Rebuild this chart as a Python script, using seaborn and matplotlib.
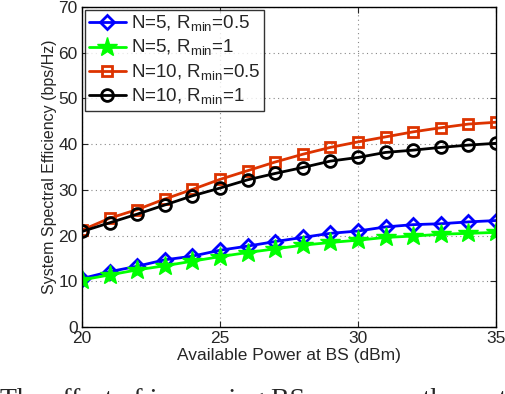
import numpy as np
import pandas as pd
import matplotlib
matplotlib.use("Agg")
import matplotlib.pyplot as plt
import seaborn as sns

# -------------------------------
# DATA
# -------------------------------
power_dbm = [20, 21, 22, 23, 24, 25, 26, 27, 28, 29, 30, 31, 32, 33, 34, 35]
se_n5_r05 = [10.6, 12.1, 13.3, 14.7, 15.5, 16.8, 17.7, 18.7, 19.6, 20.5, 21.0, 21.9, 22.4, 22.6, 23.0, 23.3]
se_n5_r1 = [10.3, 11.4, 12.5, 13.4, 14.4, 15.4, 16.3, 17.1, 17.9, 18.5, 19.0, 19.6, 19.9, 20.3, 20.5, 20.7]
se_n10_r05 = [21.2, 23.8, 25.7, 28.0, 30.1, 32.3, 34.2, 36.1, 37.8, 39.3, 40.5, 41.6, 42.7, 43.6, 44.4, 44.8]
se_n10_r1 = [20.9, 22.8, 24.7, 26.7, 28.7, 30.4, 32.2, 33.6, 34.9, 36.3, 37.1, 38.2, 38.7, 39.3, 39.8, 40.2]

labels = [r"N=5, R$_\mathregular{min}$=0.5",
          r"N=5, R$_\mathregular{min}$=1",
          r"N=10, R$_\mathregular{min}$=0.5",
          r"N=10, R$_\mathregular{min}$=1"]

sns.set_style("ticks")
plt.rcParams["font.family"] = ["Liberation Sans", "DejaVu Sans"]
plt.rcParams["xtick.direction"] = "in"
plt.rcParams["ytick.direction"] = "in"

df = pd.DataFrame({"power": power_dbm * 4,
                   "se": se_n5_r05 + se_n5_r1 + se_n10_r05 + se_n10_r1,
                   "case": np.repeat(labels, len(power_dbm))})

# -------------------------------
# STYLES PER SERIES
# -------------------------------
styles = {
    labels[0]: dict(color="#0000ff", marker="D", ms=7, mfc="none", mew=2),
    labels[1]: dict(color="#00ff00", marker="*", ms=15, mfc="#00ff00", mew=1),
    labels[2]: dict(color="#dd3300", marker="s", ms=7, mfc="none", mew=2),
    labels[3]: dict(color="#000000", marker="o", ms=8.5, mfc="none", mew=2),
}

fig = plt.figure(figsize=(5.06, 3.94), dpi=100)
ax = fig.add_axes([0.162, 0.170, 0.818, 0.812])

for lab in labels:
    st = styles[lab]
    sns.lineplot(data=df[df["case"] == lab], x="power", y="se", ax=ax,
                 color=st["color"], marker=st["marker"], markersize=st["ms"],
                 markerfacecolor=st["mfc"], markeredgecolor=st["color"],
                 markeredgewidth=st["mew"], linewidth=2, label=lab)

ax.set_xlim(20, 35)
ax.set_ylim(0, 70)
ax.set_xticks([20, 25, 30, 35])
ax.set_yticks(range(0, 71, 10))
ax.tick_params(labelsize=12.5, top=True, right=True, length=4, width=0.8, pad=3)
ax.grid(True, linestyle=(0, (1, 3)), color="#888888", linewidth=0.8)
for sp in ax.spines.values():
    sp.set_color("black")
    sp.set_linewidth(1)

ax.set_xlabel("Available Power at BS (dBm)", fontsize=12.5, labelpad=1)
ax.set_ylabel("System Spectral Efficiency (bps/Hz)", fontsize=11.5, labelpad=1)

leg = ax.legend(loc="upper left", fontsize=13.5, frameon=True, fancybox=False,
                handlelength=2.0, handletextpad=0.25, borderpad=0.2,
                labelspacing=0.22, borderaxespad=0.15)
leg.get_frame().set_edgecolor("black")
leg.get_frame().set_linewidth(1)

# caption fragment cut at the bottom of the crop
fig.text(0.0, -0.032, "The effect of increasing BS power on the syst",
         fontsize=20, family="Liberation Serif", ha="left", va="baseline")

fig.savefig("out.png", dpi=100)
